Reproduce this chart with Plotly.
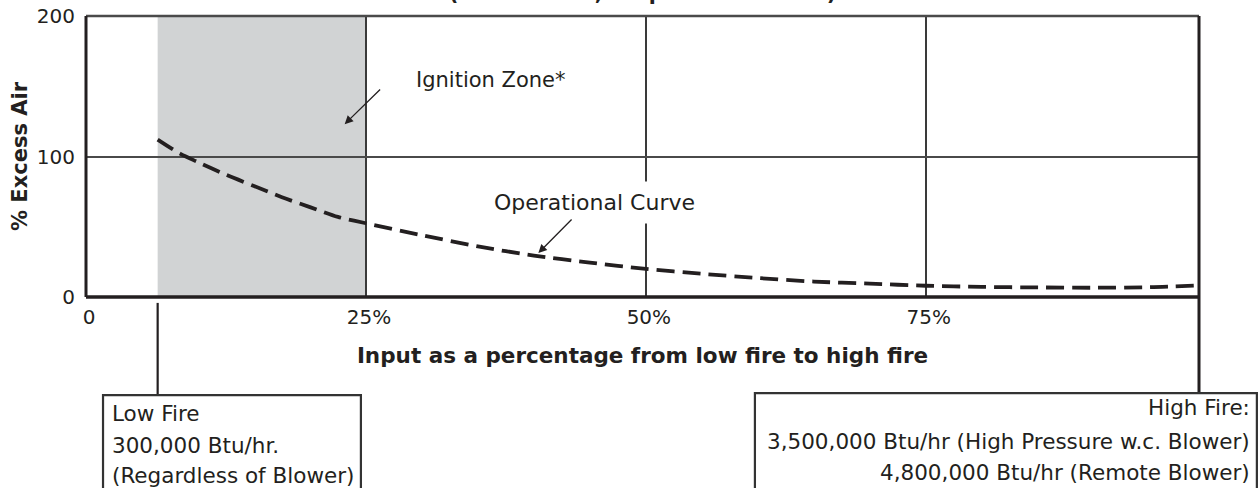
import plotly.graph_objects as go

# ---- data ----
input_pct = [6.4, 8.4, 10, 12.5, 15, 17.5, 20, 22.5, 25, 30, 35, 40, 45, 50,
             55, 60, 65, 70, 75, 80, 85, 90, 95, 99.4]
excess_air = [112, 102, 96, 87, 79, 71, 64, 57, 52.5, 44, 36, 29.5, 24.5, 20,
              16.5, 13.5, 11, 9.5, 8, 7.2, 6.8, 6.6, 7, 8.3]
ignition_zone = [6.4, 25]
low_fire_pct = 6.4
x_ticks = [0, 25, 50, 75]
x_tick_labels = ["0", "25%", "50%", "75%"]
y_ticks = [0, 100, 200]
y_tick_labels = ["0", "100", "200"]
x_range = [0, 99.4]
y_range = [0, 200]

title_text = "(Natural Gas, Propane or Butane)"
x_title = "Input as a percentage from low fire to high fire"
y_title = "% Excess Air"
zone_label = "Ignition Zone*"
curve_label = "Operational Curve"
low_fire_lines = ["Low Fire", "300,000 Btu/hr.", "(Regardless of Blower)"]
high_fire_lines = ["High Fire:", "3,500,000 Btu/hr (High Pressure w.c. Blower)",
                   "4,800,000 Btu/hr (Remote Blower)"]

FONT = "'DejaVu Sans', Verdana, sans-serif"
INK = "#231f20"

fig = go.Figure()
fig.add_trace(go.Scatter(
    x=input_pct, y=excess_air, mode="lines",
    line=dict(color=INK, width=3.8, dash="18px,8px", shape="spline", smoothing=0.8),
    hoverinfo="skip", showlegend=False))

shapes = []
# ignition zone
shapes.append(dict(type="rect", xref="x", yref="y", x0=ignition_zone[0], x1=ignition_zone[1],
                   y0=y_range[0], y1=y_range[1], fillcolor="#d1d3d4", line=dict(width=0),
                   layer="below"))
# frame
shapes.append(dict(type="line", xref="paper", yref="paper", x0=0, x1=1, y0=1, y1=1,
                   line=dict(color="#4a4a4a", width=2.5)))
shapes.append(dict(type="line", xref="paper", yref="paper", x0=0, x1=0, y0=0, y1=1,
                   line=dict(color=INK, width=3)))
shapes.append(dict(type="line", xref="paper", yref="paper", x0=0, x1=1, y0=0, y1=0,
                   line=dict(color=INK, width=3.5)))
shapes.append(dict(type="line", xref="paper", yref="paper", x0=1, x1=1, y0=1, y1=-0.342,
                   line=dict(color=INK, width=3)))
# low fire leader line
shapes.append(dict(type="line", xref="x", yref="paper", x0=low_fire_pct, x1=low_fire_pct,
                   y0=-0.021, y1=-0.349, line=dict(color=INK, width=2.2)))
# boxes
shapes.append(dict(type="rect", xref="paper", yref="paper", x0=0.0153, x1=0.247,
                   y0=-0.349, y1=-0.75, line=dict(color="#333333", width=2.2)))
shapes.append(dict(type="rect", xref="paper", yref="paper", x0=0.601, x1=1.052,
                   y0=-0.342, y1=-0.75, line=dict(color="#333333", width=2.2)))

annotations = []
annotations.append(dict(text=title_text, xref="paper", yref="paper", x=0.5, y=1.031,
                        xanchor="center", yanchor="bottom", showarrow=False,
                        font=dict(family=FONT, size=20.5, color=INK, weight="bold")))
annotations.append(dict(text=zone_label, xref="x", yref="y", x=36.2, y=154.8,
                        showarrow=False, font=dict(family=FONT, size=21, color=INK)))
annotations.append(dict(text=curve_label, xref="x", yref="y", x=45.4, y=67.6,
                        showarrow=False, bgcolor="white", borderpad=8,
                        font=dict(family=FONT, size=22, color=INK)))
# arrows
annotations.append(dict(text=" ", xref="x", yref="y", x=23.1, y=123, axref="x", ayref="y",
                        ax=26.4, ay=148.8, showarrow=True, arrowhead=2, arrowsize=1.3,
                        arrowwidth=1.3, arrowcolor=INK, font=dict(size=1)))
annotations.append(dict(text=" ", xref="x", yref="y", x=40.4, y=31.3, axref="x", ayref="y",
                        ax=43.5, ay=56.2, showarrow=True, arrowhead=2, arrowsize=1.3,
                        arrowwidth=1.3, arrowcolor=INK, font=dict(size=1)))
for txt, yy in zip(low_fire_lines, [-0.413, -0.530, -0.637]):
    annotations.append(dict(text=txt, xref="paper", yref="paper", x=0.0216, y=yy,
                            xanchor="left", yanchor="middle", showarrow=False,
                            font=dict(family=FONT, size=21.5, color=INK)))
for txt, yy in zip(high_fire_lines, [-0.395, -0.516, -0.623]):
    annotations.append(dict(text=txt, xref="paper", yref="paper", x=1.0476, y=yy,
                            xanchor="right", yanchor="middle", showarrow=False,
                            font=dict(family=FONT, size=21.5, color=INK)))

fig.update_layout(
    width=1260, height=488,
    margin=dict(l=86, r=61, t=16, b=191, pad=0, autoexpand=False),
    paper_bgcolor="white", plot_bgcolor="white",
    font=dict(family=FONT, color=INK),
    shapes=shapes, annotations=annotations,
    showlegend=False,
    xaxis=dict(range=x_range, tickvals=x_ticks, ticktext=x_tick_labels,
               showgrid=True, gridcolor="#3a3a3a", gridwidth=1.5, zeroline=False,
               showline=False, ticks="", ticklabelstandoff=6, ticklabelshift=3,
               automargin=False, ticklabeloverflow="allow",
               tickfont=dict(family=FONT, size=20, color=INK),
               title=dict(text=x_title, standoff=19,
                          font=dict(family=FONT, size=21.5, color=INK, weight="bold")),
               fixedrange=True),
    yaxis=dict(range=y_range, tickvals=y_ticks, ticktext=y_tick_labels,
               showgrid=True, gridcolor="#4a4a4a", gridwidth=1.5, zeroline=False,
               showline=False, ticks="", ticklabelstandoff=10, automargin=False,
               ticklabeloverflow="allow",
               tickfont=dict(family=FONT, size=20, color=INK),
               title=dict(text=y_title, standoff=3,
                          font=dict(family=FONT, size=21, color=INK, weight="bold")),
               fixedrange=True),
)

# remove the default page margin so the figure sits at the window's top-left corner
fig.write_html("out.html", config={"displayModeBar": False},
               post_script="document.body.style.margin='0';")
